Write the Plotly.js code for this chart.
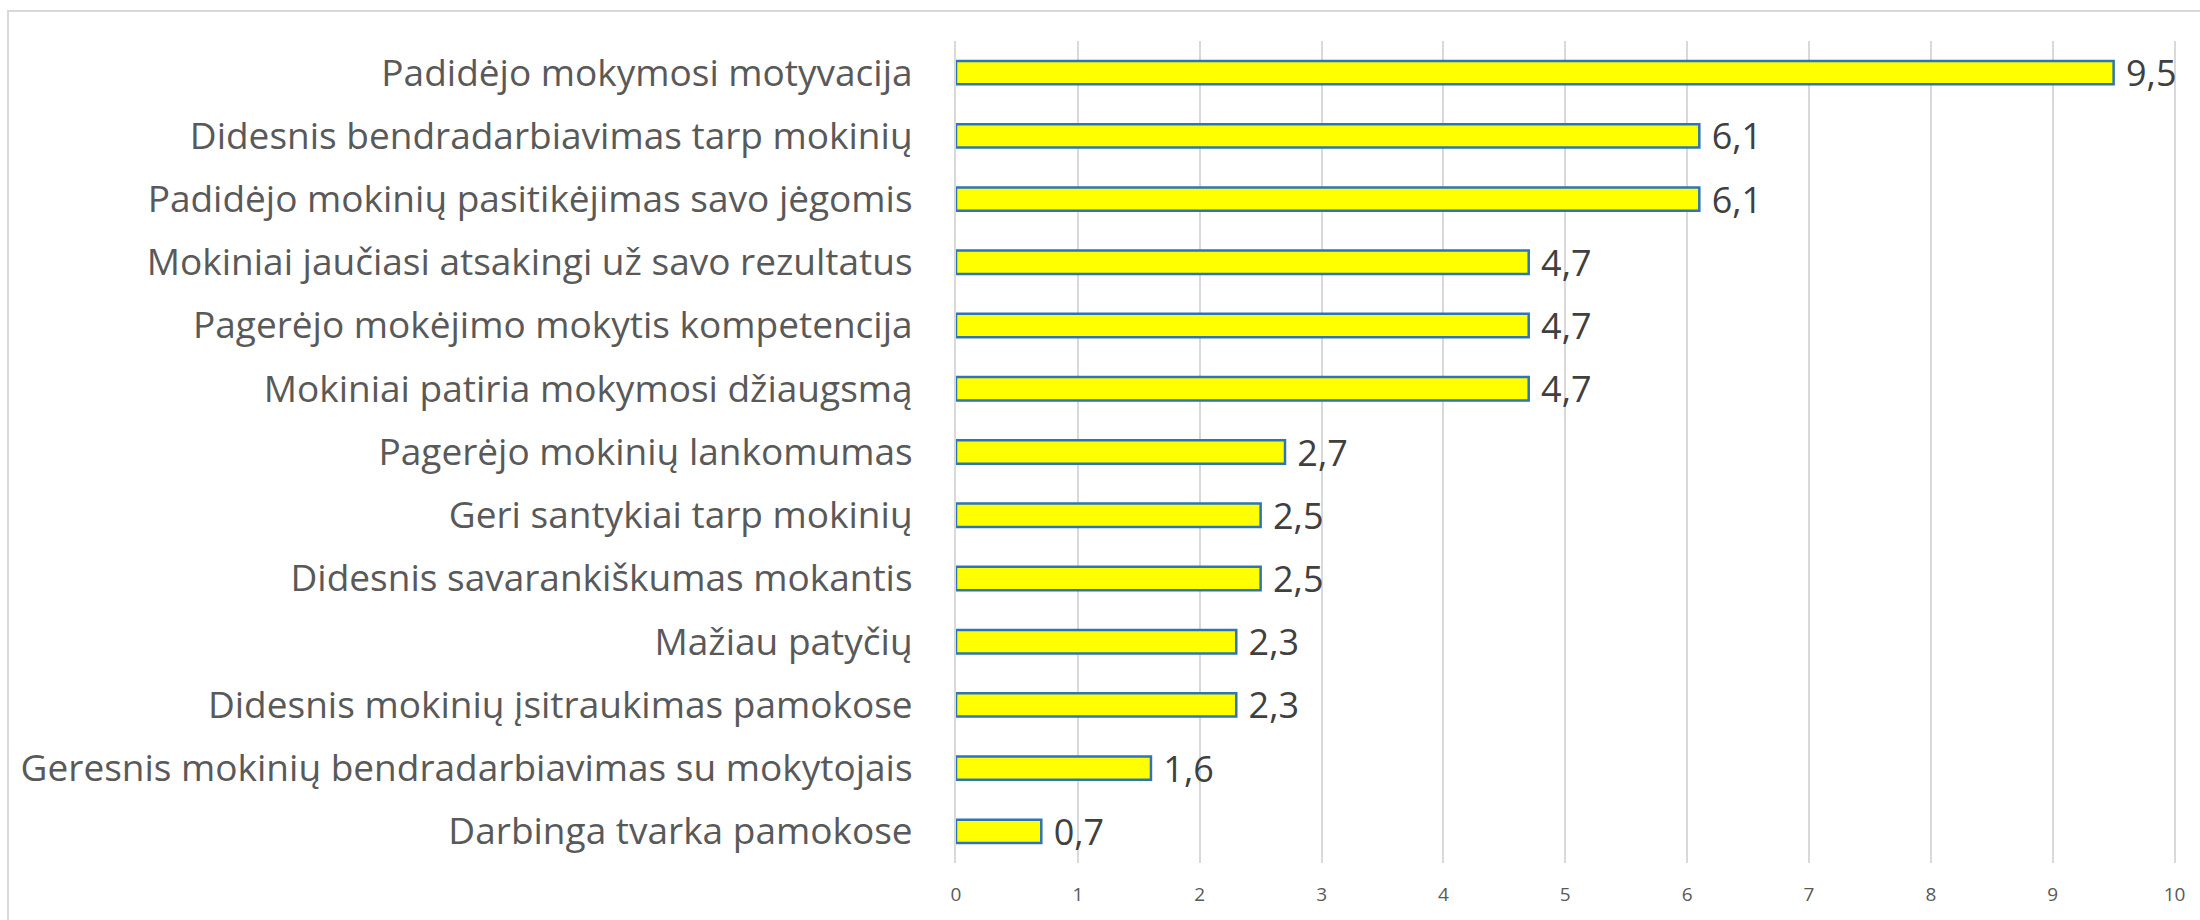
<!DOCTYPE html>
<html>
<head>
<meta charset="utf-8">
<script src="https://cdn.plot.ly/plotly-3.0.1.min.js"></script>
<style>
html,body{margin:0;padding:0;background:#fff;}
#chart{width:2200px;height:920px;}
</style>
</head>
<body>
<div id="chart"></div>
<script>
const categories = [
  "Padidėjo mokymosi motyvacija",
  "Didesnis bendradarbiavimas tarp mokinių",
  "Padidėjo mokinių pasitikėjimas savo jėgomis",
  "Mokiniai jaučiasi atsakingi už savo rezultatus",
  "Pagerėjo mokėjimo mokytis kompetencija",
  "Mokiniai patiria mokymosi džiaugsmą",
  "Pagerėjo mokinių lankomumas",
  "Geri santykiai tarp mokinių",
  "Didesnis savarankiškumas mokantis",
  "Mažiau patyčių",
  "Didesnis mokinių įsitraukimas pamokose",
  "Geresnis mokinių bendradarbiavimas su mokytojais",
  "Darbinga tvarka pamokose"
];
const values = [9.5, 6.1, 6.1, 4.7, 4.7, 4.7, 2.7, 2.5, 2.5, 2.3, 2.3, 1.6, 0.7];
const tickVals = [0,1,2,3,4,5,6,7,8,9,10];

const labelText = values.map(v => " " + v.toFixed(1).replace('.', ','));

const W = 2200, H = 920;
const m = {l: 956, r: 23, t: 41, b: 57};
const pw = W - m.l - m.r, ph = H - m.t - m.b;
const FONT = '"Open Sans", "Noto Sans", sans-serif';

const trace = {
  type: 'bar',
  orientation: 'h',
  y: categories,
  x: values,
  text: labelText,
  textposition: 'outside',
  constraintext: 'none',
  cliponaxis: false,
  textfont: {family: FONT, size: 36, color: '#404040'},
  marker: {color: '#FFFF00', line: {color: '#2E75B6', width: 2.5}},
  hoverinfo: 'none',
  width: 0.37
};

const layout = {
  width: W, height: H,
  margin: m,
  paper_bgcolor: '#ffffff',
  plot_bgcolor: '#ffffff',
  showlegend: false,
  font: {family: FONT, color: '#595959'},
  xaxis: {
    range: [0, 10.02],
    tickvals: tickVals,
    ticktext: tickVals.map(String),
    showgrid: true, gridcolor: '#d9d9d9', gridwidth: 2,
    zeroline: false, showline: false,
    ticks: '',
    tickfont: {size: 19, color: '#595959'},
    ticklabelstandoff: 18,
    fixedrange: true
  },
  yaxis: {
    type: 'category',
    autorange: 'reversed',
    showgrid: false, zeroline: false,
    showline: true, linecolor: '#d9d9d9', linewidth: 2,
    ticks: '',
    ticklabelstandoff: 34,
    tickfont: {size: 37, color: '#595959'},
    automargin: false,
    fixedrange: true
  },
  shapes: [{
    type: 'rect', xref: 'paper', yref: 'paper',
    x0: (8 - m.l) / pw, x1: (W + 20 - m.l) / pw,
    y0: -(H + 20 - (H - m.b)) / ph, y1: 1 + (m.t - 11) / ph,
    line: {color: '#d9d9d9', width: 2}, fillcolor: 'rgba(0,0,0,0)', layer: 'below'
  }]
};

Plotly.newPlot('chart', [trace], layout, {displayModeBar: false, staticPlot: true});
</script>
</body>
</html>
